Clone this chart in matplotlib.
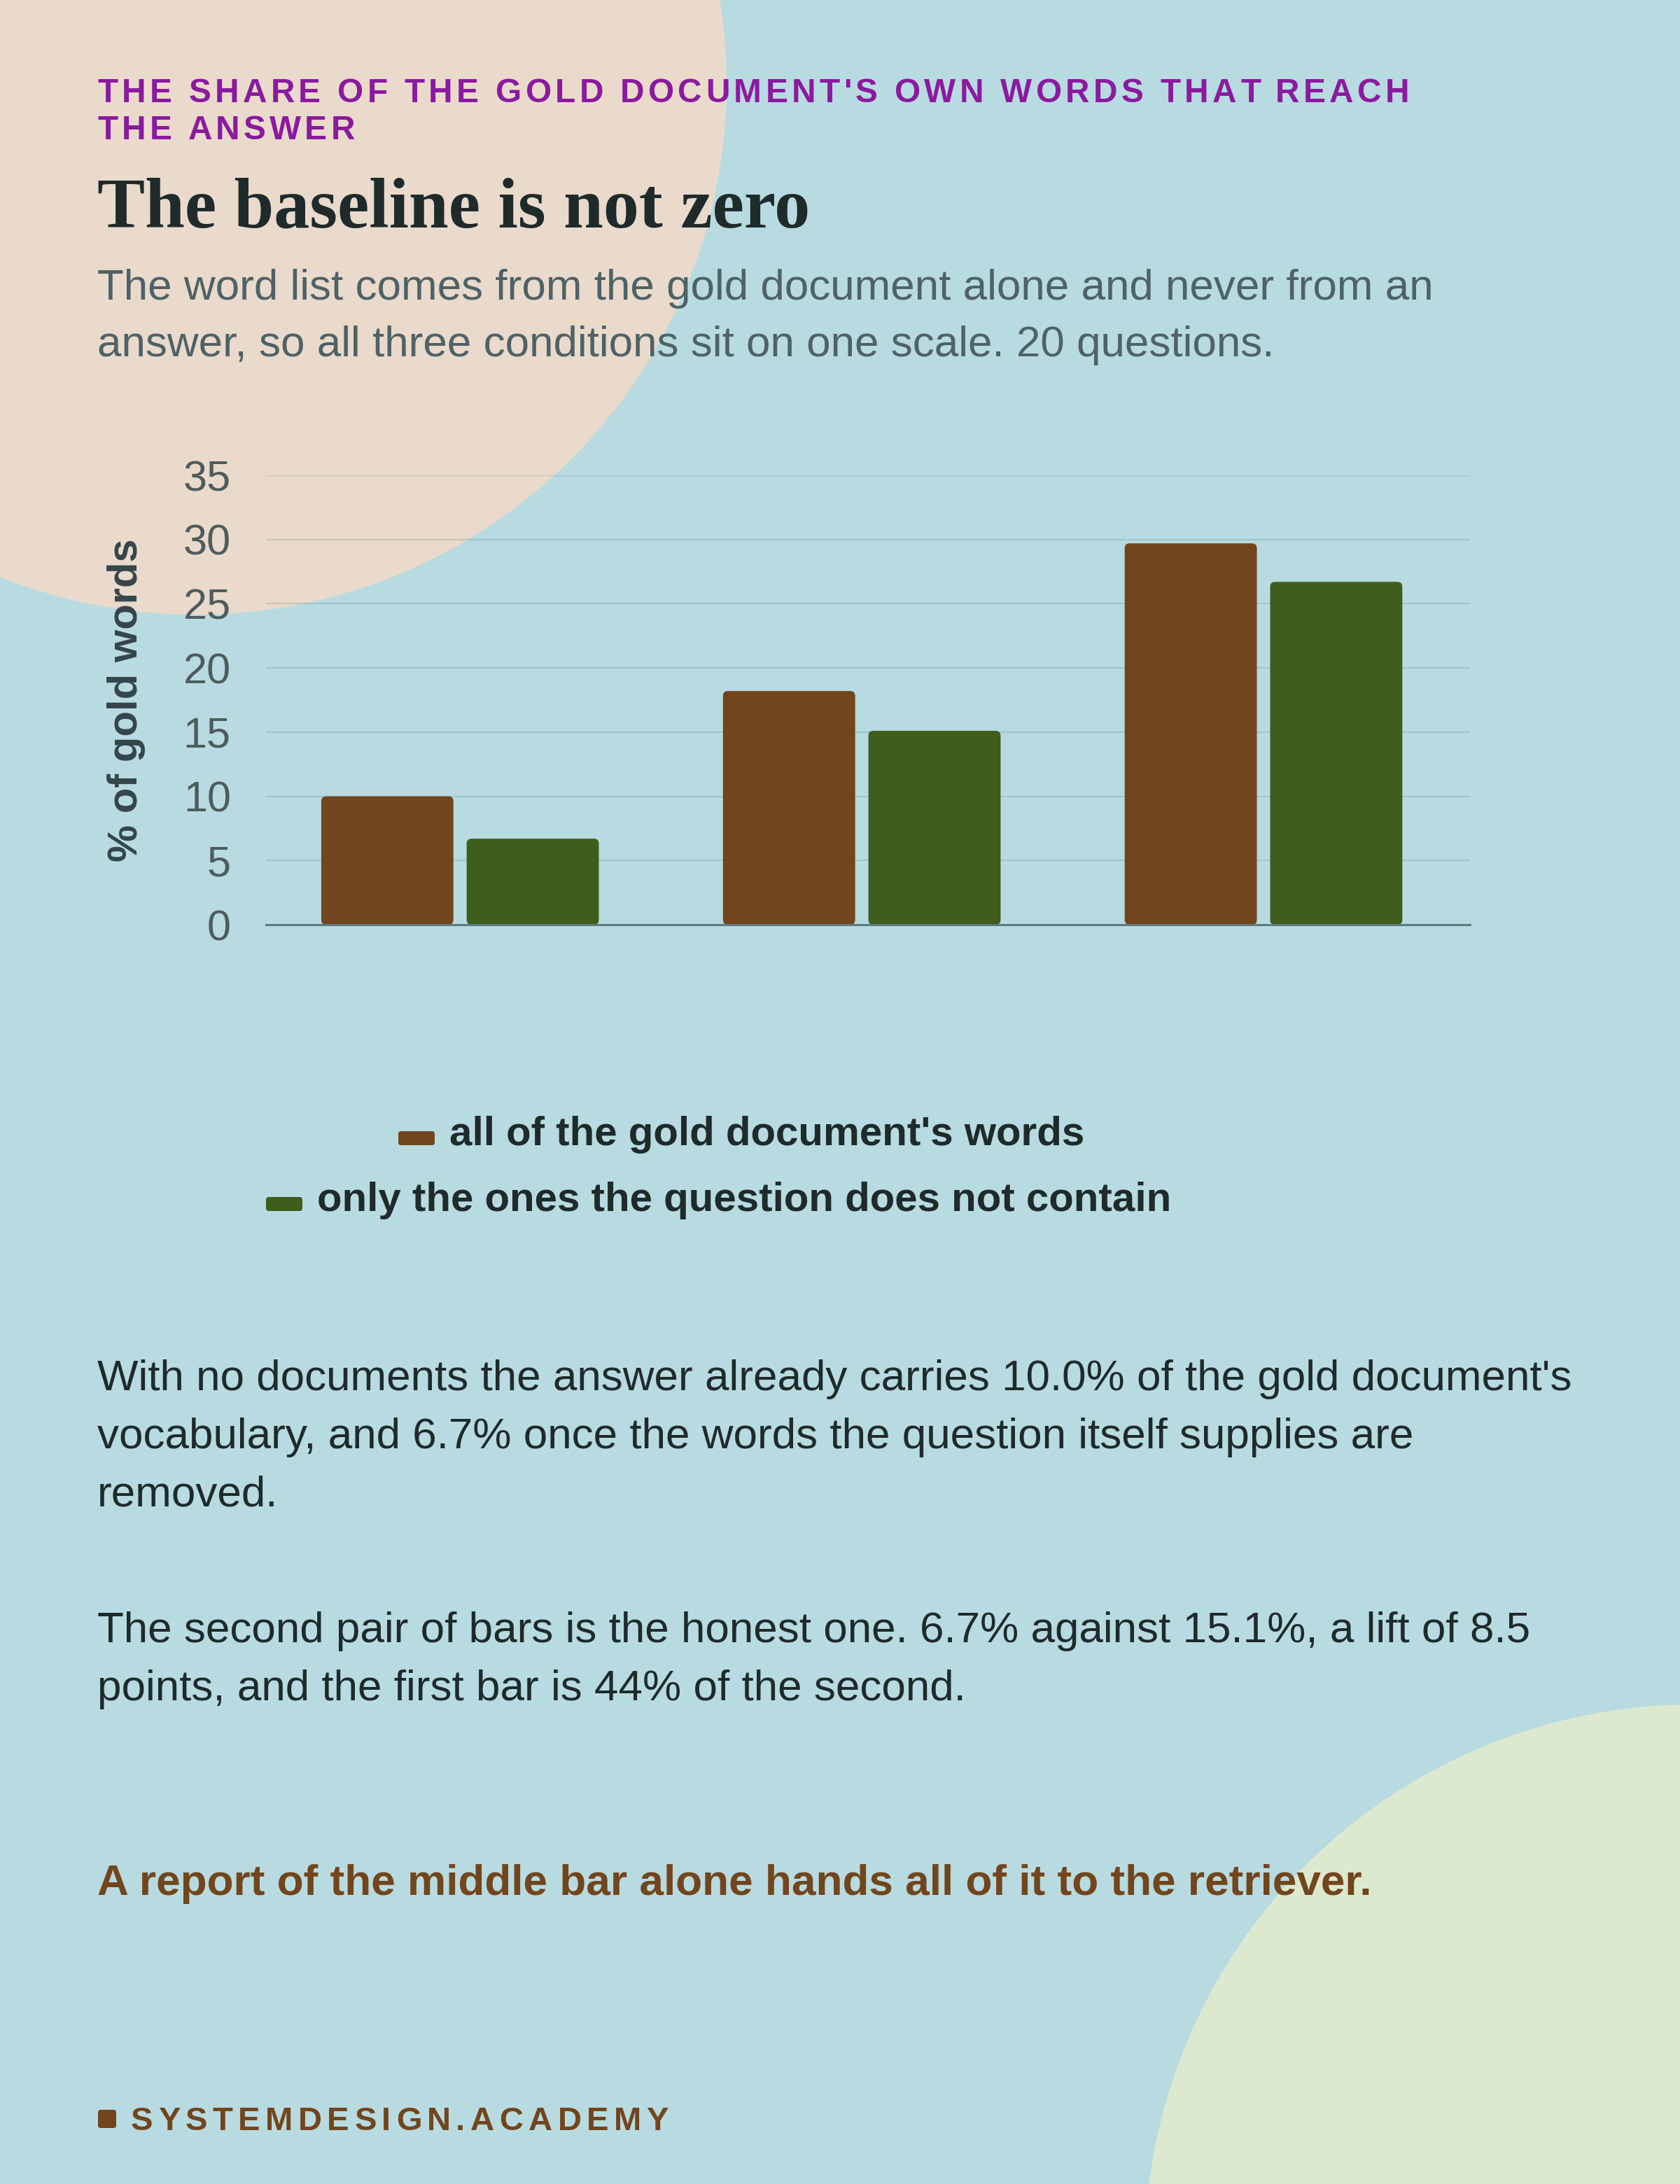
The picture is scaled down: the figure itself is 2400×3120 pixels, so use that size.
import matplotlib
matplotlib.use("Agg")
import matplotlib.pyplot as plt
import numpy as np
from matplotlib.patches import Circle, FancyBboxPatch
from matplotlib.font_manager import FontProperties
from matplotlib.transforms import IdentityTransform

# ---------------- data ----------------
categories = ["no documents", "condition 2", "condition 3"]
series_names = ["all of the gold document's words",
                "only the ones the question does not contain"]
all_words = [10.0, 18.2, 29.7]
not_in_question = [6.7, 15.1, 26.7]
y_ticks = [0, 5, 10, 15, 20, 25, 30, 35]

eyebrow_lines = ["THE SHARE OF THE GOLD DOCUMENT'S OWN WORDS THAT REACH",
                 "THE ANSWER"]
title = "The baseline is not zero"
subtitle_lines = ["The word list comes from the gold document alone and never from an",
                  "answer, so all three conditions sit on one scale. 20 questions."]
para1 = ["With no documents the answer already carries 10.0% of the gold document's",
         "vocabulary, and 6.7% once the words the question itself supplies are",
         "removed."]
para2 = ["The second pair of bars is the honest one. 6.7% against 15.1%, a lift of 8.5",
         "points, and the first bar is 44% of the second."]
conclusion = "A report of the middle bar alone hands all of it to the retriever."
footer = "SYSTEMDESIGN.ACADEMY"
y_label = "% of gold words"

# ---------------- style ----------------
BG = "#b7dbe1"
PEACH = "#eadacb"
SAGE = "#dde9cf"
BROWN = "#73451c"
GREEN = "#3f5d1c"
PURPLE = "#8b1a9f"
DARK = "#1f2a2b"
SUBGRAY = "#4e6267"
TICK = "#4f5b5e"
AXIS = "#5f7a80"
SANS = ["Liberation Sans", "DejaVu Sans"]
SERIF = ["Liberation Serif", "DejaVu Serif"]

W, H, DPI = 2400, 3120, 200
fig = plt.figure(figsize=(W / DPI, H / DPI), dpi=DPI)
fig.patch.set_facecolor(BG)

bg = fig.add_axes([0, 0, 1, 1], zorder=0)
bg.set_xlim(0, W)
bg.set_ylim(H, 0)
bg.axis("off")
bg.add_patch(Circle((280, 120), 758, facecolor=PEACH, edgecolor="none"))
bg.add_patch(Circle((2420, 3220), 785, facecolor=SAGE, edgecolor="none"))

renderer = fig.canvas.get_renderer()


def tw(s, fp):
    return renderer.get_text_width_height_descent(s, fp, ismath=False)[0]


def fit_fp(s, family, weight, target, base=20.0):
    fp = FontProperties(family=family, weight=weight, size=base)
    size = base * target / tw(s, fp)
    return FontProperties(family=family, weight=weight, size=size)


def tracking_for(s, fp, target):
    return (target - tw(s, fp)) / (len(s) - 1)


def draw_tracked(x, y, s, fp, t, color):
    hw = tw("H", fp)
    for i, ch in enumerate(s):
        if ch == " ":
            continue
        adv = (tw(s[:i] + "H", fp) - hw) if i > 0 else 0.0
        bg.text(x + adv + i * t, y, ch, fontproperties=fp, color=color,
                ha="left", va="baseline")


LEFT = 139

# eyebrow
fp_eb = FontProperties(family=SANS, weight="bold", size=17.2)
t_eb = tracking_for(eyebrow_lines[0], fp_eb, 2013 - LEFT)
draw_tracked(LEFT, 146, eyebrow_lines[0], fp_eb, t_eb, PURPLE)
draw_tracked(LEFT, 199, eyebrow_lines[1], fp_eb, t_eb, PURPLE)

# title
fp_title = fit_fp(title, SERIF, "bold", 1156 - LEFT)
bg.text(LEFT, 324, title, fontproperties=fp_title, color=DARK, ha="left", va="baseline")

# subtitle
fp_sub = fit_fp(subtitle_lines[0], SANS, "normal", 2049 - LEFT)
for i, line in enumerate(subtitle_lines):
    bg.text(LEFT, 428 + i * 81, line, fontproperties=fp_sub, color=SUBGRAY,
            ha="left", va="baseline")

# ---------------- chart ----------------
ax = fig.add_axes([380 / W, 1 - 1321 / H, 1720 / W, (1321 - 679) / H], zorder=2)
ax.set_facecolor("none")
x = np.arange(len(categories))
bars1 = ax.bar(x - 0.181, all_words, width=0.329, color=BROWN, zorder=3, label=series_names[0])
bars2 = ax.bar(x + 0.181, not_in_question, width=0.329, color=GREEN, zorder=3, label=series_names[1])
ax.set_xlim(-0.483, 2.514)
ax.set_ylim(0, 35)
ax.set_xticks([])
ax.set_yticks(y_ticks)
ax.set_yticklabels([str(v) for v in y_ticks])
ax.tick_params(axis="y", length=0, pad=18, labelsize=22, labelcolor=TICK)
for lab in ax.get_yticklabels():
    lab.set_fontfamily(SANS)
for s in ["top", "right", "left"]:
    ax.spines[s].set_visible(False)
ax.spines["bottom"].set_color(AXIS)
ax.spines["bottom"].set_linewidth(1.1)
ax.spines["bottom"].set_zorder(4)
ax.yaxis.grid(True, color="#4f6f75", alpha=0.2, linewidth=0.8)
ax.set_axisbelow(True)
ax.set_ylabel(y_label, fontfamily=SANS, fontweight="bold", fontsize=21.5, color="#34464a")
ax.yaxis.set_label_coords((180 - 380) / 1720, 0.5)
ax.yaxis.label.set_va("center")

# round the bar corners slightly (geometry taken from the bars the library placed)
R = 7
for rect in list(bars1) + list(bars2):
    bb = rect.get_window_extent(renderer)
    rb = FancyBboxPatch((bb.x0 + R, bb.y0 + R), bb.width - 2 * R, bb.height - 2 * R,
                        boxstyle=f"round,pad={R}", facecolor=rect.get_facecolor(),
                        edgecolor="none", transform=IdentityTransform(), zorder=3)
    ax.add_artist(rb)
    rect.set_visible(False)

# ---------------- legend ----------------
fp_leg = fit_fp(series_names[1], SANS, "bold", 1670 - 453)
leg_rows = [(569, 642, 1636, BROWN, series_names[0]),
            (380, 453, 1730, GREEN, series_names[1])]
for mx, tx, base, col, name in leg_rows:
    bg.add_patch(FancyBboxPatch((mx + 4, base - 20 + 4), 52 - 8, 20 - 8,
                                boxstyle="round,pad=4", facecolor=col, edgecolor="none"))
    bg.text(tx, base, name, fontproperties=fp_leg, color=DARK, ha="left", va="baseline")

# ---------------- body ----------------
fp_body = fit_fp(para1[0], SANS, "normal", 2247 - LEFT)
for i, line in enumerate(para1):
    bg.text(LEFT, 1986 + i * 83, line, fontproperties=fp_body, color=DARK,
            ha="left", va="baseline")
for i, line in enumerate(para2):
    bg.text(LEFT, 2346 + i * 83, line, fontproperties=fp_body, color=DARK,
            ha="left", va="baseline")

fp_conc = fit_fp(conclusion, SANS, "bold", 1955 - LEFT)
bg.text(LEFT, 2707, conclusion, fontproperties=fp_conc, color=BROWN, ha="left", va="baseline")

# ---------------- footer ----------------
bg.add_patch(FancyBboxPatch((140 + 4, 3014 + 4), 26 - 8, 26 - 8,
                            boxstyle="round,pad=4", facecolor=BROWN, edgecolor="none"))
fp_ft = FontProperties(family=SANS, weight="bold", size=17.0)
t_ft = tracking_for(footer, fp_ft, 955 - 187)
draw_tracked(187, 3043, footer, fp_ft, t_ft, BROWN)

fig.savefig("out.png", dpi=DPI, facecolor=BG)
